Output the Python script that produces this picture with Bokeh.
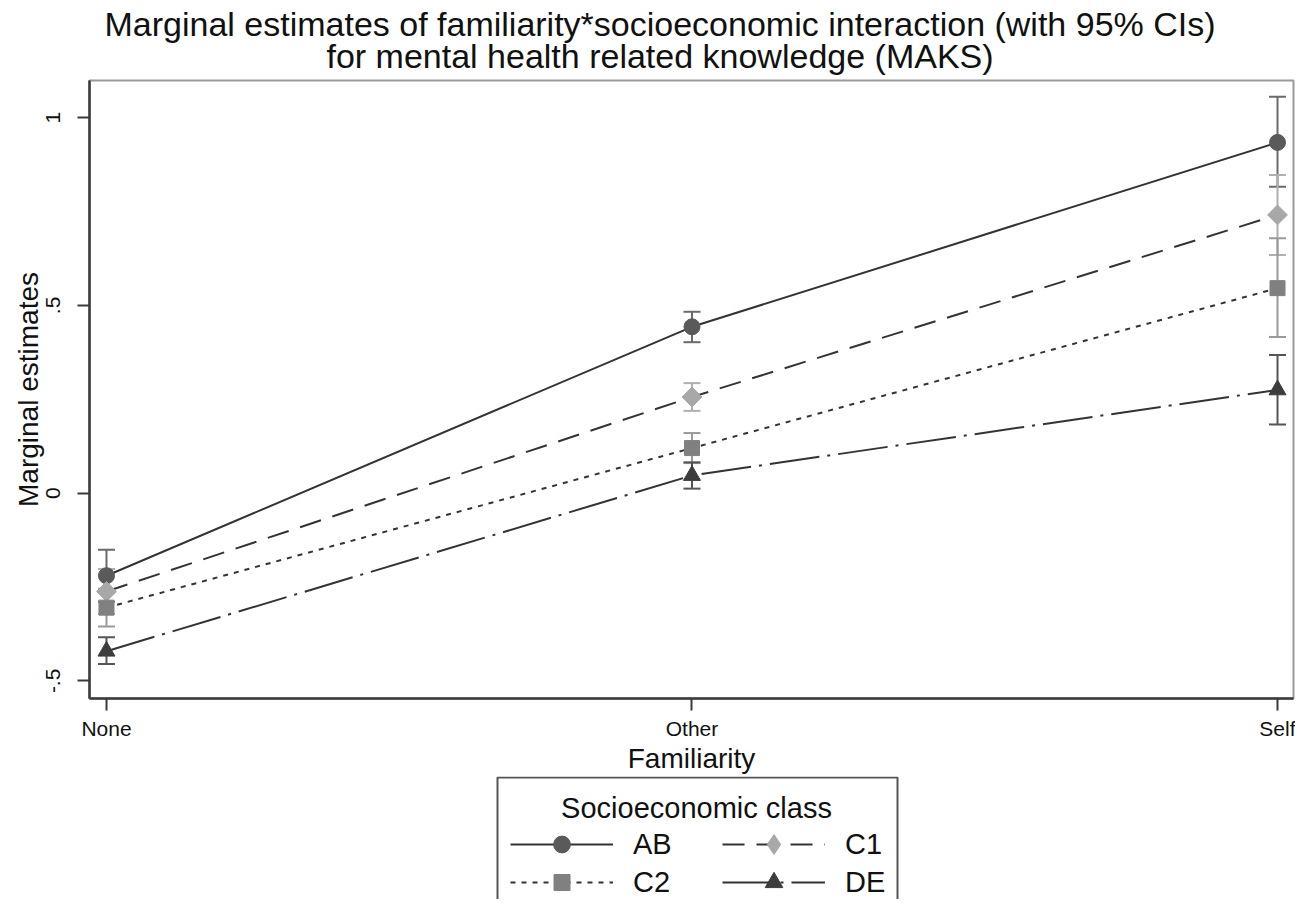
import math
from bokeh.plotting import figure
from bokeh.layouts import column
from bokeh.models import (ColumnDataSource, Whisker, TeeHead, Legend, LegendItem,
                          Range1d, FixedTicker, Label, BoxAnnotation)
from bokeh.embed import file_html
from bokeh.resources import INLINE

# ---------------- data ----------------
familiarity = ["None", "Other", "Self"]
x_pos = [0, 1, 2]
classes = ["AB", "C1", "C2", "DE"]

ab_est = [-0.220, 0.443, 0.934]
ab_lo = [-0.289, 0.402, 0.816]
ab_hi = [-0.151, 0.483, 1.056]

c1_est = [-0.262, 0.256, 0.741]
c1_lo = [-0.322, 0.219, 0.634]
c1_hi = [-0.202, 0.293, 0.847]

c2_est = [-0.305, 0.120, 0.546]
c2_lo = [-0.355, 0.080, 0.416]
c2_hi = [-0.255, 0.160, 0.679]

de_est = [-0.421, 0.047, 0.275]
de_lo = [-0.455, 0.012, 0.183]
de_hi = [-0.384, 0.082, 0.368]

y_ticks = [-0.5, 0, 0.5, 1]
y_tick_labels = ["-.5", "0", ".5", "1"]

title_line1 = "Marginal estimates of familiarity*socioeconomic interaction (with 95% CIs)"
title_line2 = "for mental health related knowledge (MAKS)"
legend_title = "Socioeconomic class"

FONT = "Liberation Sans"
TXT = "#111111"
W = 1295
FL = 89          # frame left (all stacked figures share it)
FR = 2           # right border


def blank_fig(h, xr=(0, 1), yr=(0, 1)):
    f = figure(width=W, height=h, output_backend="svg", toolbar_location=None,
               x_axis_location=None, y_axis_location=None,
               x_range=Range1d(*xr), y_range=Range1d(*yr),
               min_border_left=FL, min_border_right=FR,
               min_border_top=0, min_border_bottom=0)
    f.grid.visible = False
    f.outline_line_color = None
    f.background_fill_color = "white"
    f.border_fill_color = "white"
    return f


# ---------------- title strip ----------------
TH = 78
MID = 11.8   # baseline -> text middle for 34px
ptitle = blank_fig(TH)
ptitle.add_layout(Label(x=659.5 - FL, y=TH - (35 - MID), x_units="screen", y_units="screen",
                        text=title_line1, text_align="center",
                        text_baseline="middle", text_font=FONT,
                        text_font_size="34px", text_color=TXT))
ptitle.add_layout(Label(x=659.5 - FL, y=TH - (67 - MID), x_units="screen", y_units="screen",
                        text=title_line2, text_align="center",
                        text_baseline="middle", text_font=FONT,
                        text_font_size="34px", text_color=TXT))

# ---------------- main plot ----------------
PH = 698
p = figure(width=W, height=PH, output_backend="svg", toolbar_location=None,
           x_range=Range1d(-0.029, 2.0273), y_range=Range1d(-0.547, 1.099),
           min_border_left=FL, min_border_right=FR, min_border_top=80 - TH,
           min_border_bottom=PH - (699 - TH))
p.grid.visible = False
p.background_fill_color = "white"
p.border_fill_color = "white"
p.outline_line_color = "#9a9a9a"
p.outline_line_width = 2

for ax in (p.xaxis[0], p.yaxis[0]):
    ax.axis_line_color = "#3a3a3a"
    ax.axis_line_width = 2.5
    ax.major_tick_line_color = "#3a3a3a"
    ax.major_tick_line_width = 2
    ax.major_tick_out = 12
    ax.major_tick_in = 0
    ax.minor_tick_line_color = None
    ax.major_label_text_font = FONT
    ax.major_label_text_font_size = "21px"
    ax.major_label_text_color = TXT
    ax.axis_label_text_font = FONT
    ax.axis_label_text_font_size = "28px"
    ax.axis_label_text_font_style = "normal"
    ax.axis_label_text_color = TXT

p.xaxis.ticker = FixedTicker(ticks=x_pos)
p.xaxis.major_label_overrides = dict(zip(x_pos, familiarity))
p.xaxis.axis_label = "Familiarity"
p.xaxis.major_label_standoff = 6
p.xaxis.axis_label_standoff = 0

p.yaxis.ticker = FixedTicker(ticks=y_ticks)
p.yaxis.major_label_overrides = dict(zip(y_ticks, y_tick_labels))
p.yaxis.major_label_orientation = "vertical"
p.yaxis.axis_label = "Marginal estimates"
p.yaxis.major_label_standoff = 17
p.yaxis.axis_label_standoff = 0

series = [
    ("AB", ab_est, ab_lo, ab_hi, "#5a5a5a", "#6a6a6a", "circle", 16, "solid", 0),
    ("C1", c1_est, c1_lo, c1_hi, "#a8a8a8", "#b0b0b0", "square", 14, "22 12", math.pi / 4),
    ("C2", c2_est, c2_lo, c2_hi, "#808080", "#9a9a9a", "square", 15, "5 6", 0),
    ("DE", de_est, de_lo, de_hi, "#3c3c3c", "#555555", "triangle", 17, "50 8 3 8", 0),
]

for name, est, lo, hi, mcol, cicol, marker, msize, dash, ang in series:
    src = ColumnDataSource(dict(x=x_pos, est=est, lo=lo, hi=hi))
    p.add_layout(Whisker(source=src, base="x", lower="lo", upper="hi",
                         line_color=cicol, line_width=2, level="underlay",
                         upper_head=TeeHead(size=17, line_color=cicol, line_width=2),
                         lower_head=TeeHead(size=17, line_color=cicol, line_width=2)))

# ---------------- legend strip ----------------
LH = 899 - TH - PH          # 123
plg = blank_fig(LH, xr=(100, 101), yr=(100, 101))   # data lies off-screen here

legend_render = {}
for name, est, lo, hi, mcol, cicol, marker, msize, dash, ang in series:
    src = ColumnDataSource(dict(x=x_pos, est=est))
    p.line("x", "est", source=src, line_color="#333333", line_width=2, line_dash=dash)
    p.scatter("x", "est", source=src, marker=marker, size=msize, angle=ang,
              fill_color=mcol, line_color=mcol)
    # proxies for the legend (same data, outside the legend strip's ranges)
    ln = plg.line("x", "est", source=src, line_color="#333333", line_width=2,
                  line_dash=dash)
    lm = plg.scatter("x", "est", source=src,
                     marker=("diamond" if name == "C1" else marker),
                     fill_color=mcol, line_color=mcol)
    legend_render[name] = [ln, lm]


def sy(page_y):
    return 899 - page_y


plg.add_layout(BoxAnnotation(left=497 - FL, right=897 - FL, top=sy(777), bottom=-20,
                             left_units="screen", right_units="screen",
                             top_units="screen", bottom_units="screen",
                             fill_alpha=0, line_color="#555555", line_alpha=1,
                             line_width=2))
plg.add_layout(Label(x=696 - FL, y=sy(807), x_units="screen", y_units="screen",
                     text=legend_title, text_align="center", text_baseline="middle",
                     text_font=FONT, text_font_size="29px", text_color=TXT))

ROW1 = 844      # page y of first legend row centre
ROW2 = 882


def make_legend(name, xloc, row, gh):
    bottom = row + gh / 2
    lg = Legend(items=[LegendItem(label=name, renderers=legend_render[name])],
                location=(xloc - FL, sy(bottom)), orientation="vertical",
                glyph_width=103, glyph_height=gh, label_height=gh,
                label_standoff=20, spacing=0, padding=0, margin=0,
                border_line_color=None, background_fill_alpha=0,
                label_text_font=FONT, label_text_font_size="29px",
                label_text_color=TXT)
    plg.add_layout(lg)


make_legend("AB", 510, ROW1, 42)
make_legend("C2", 510, ROW2, 40)
make_legend("C1", 722, ROW1, 50)
make_legend("DE", 722, ROW2, 44)

layout = column(ptitle, p, plg, spacing=0)
open("out.html", "w").write(file_html(layout, INLINE))
